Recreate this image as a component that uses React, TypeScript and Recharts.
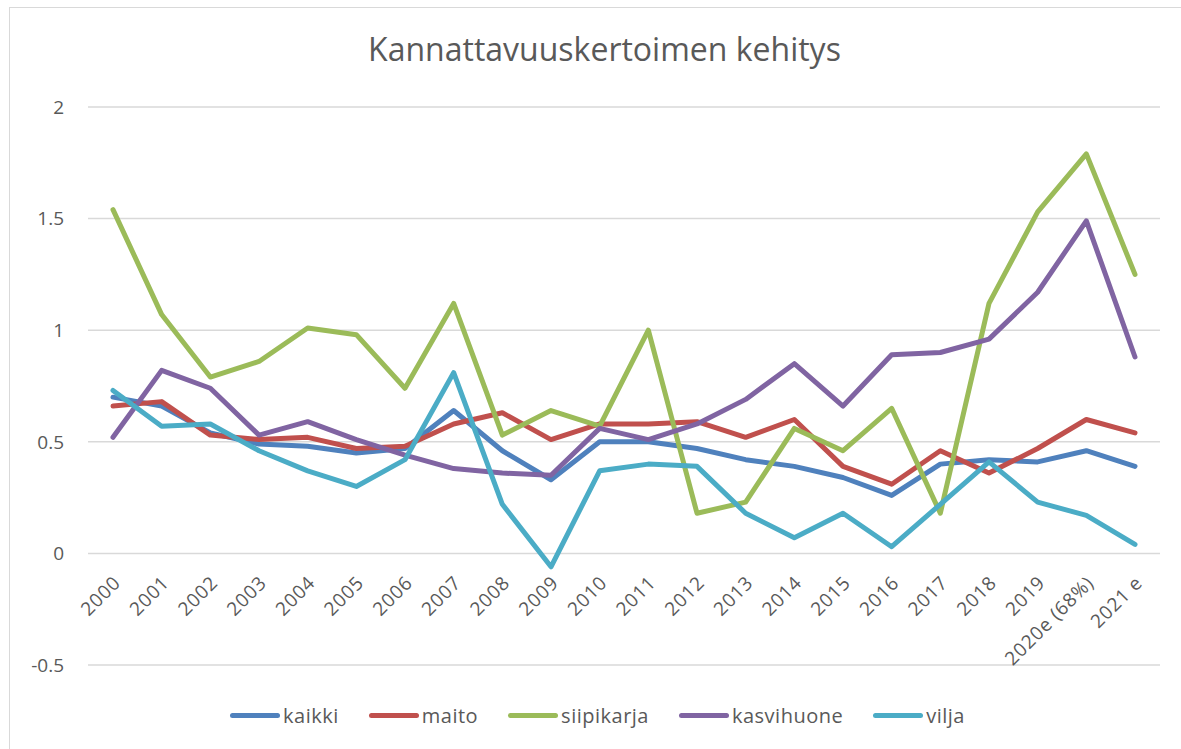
import React from "react";
import { CartesianGrid, Line, LineChart, XAxis, YAxis } from "recharts";

const years = [
  "2000", "2001", "2002", "2003", "2004", "2005", "2006", "2007", "2008", "2009", "2010",
  "2011", "2012", "2013", "2014", "2015", "2016", "2017", "2018", "2019", "2020e (68%)", "2021 e",
];
const kaikki = [0.7, 0.66, 0.54, 0.49, 0.48, 0.45, 0.47, 0.64, 0.46, 0.33, 0.5, 0.5, 0.47, 0.42, 0.39, 0.34, 0.26, 0.4, 0.42, 0.41, 0.46, 0.39];
const maito = [0.66, 0.68, 0.53, 0.51, 0.52, 0.47, 0.48, 0.58, 0.63, 0.51, 0.58, 0.58, 0.59, 0.52, 0.6, 0.39, 0.31, 0.46, 0.36, 0.47, 0.6, 0.54];
const siipikarja = [1.54, 1.07, 0.79, 0.86, 1.01, 0.98, 0.74, 1.12, 0.53, 0.64, 0.57, 1.0, 0.18, 0.23, 0.56, 0.46, 0.65, 0.18, 1.12, 1.53, 1.79, 1.25];
const kasvihuone = [0.52, 0.82, 0.74, 0.53, 0.59, 0.51, 0.44, 0.38, 0.36, 0.35, 0.56, 0.51, 0.58, 0.69, 0.85, 0.66, 0.89, 0.9, 0.96, 1.17, 1.49, 0.88];
const vilja = [0.73, 0.57, 0.58, 0.46, 0.37, 0.3, 0.42, 0.81, 0.22, -0.06, 0.37, 0.4, 0.39, 0.18, 0.07, 0.18, 0.03, 0.22, 0.41, 0.23, 0.17, 0.04];
const yTicks = [-0.5, 0, 0.5, 1, 1.5, 2];

const SERIES = [
  { key: "kaikki", values: kaikki, color: "#4F81BD" },
  { key: "maito", values: maito, color: "#C0504D" },
  { key: "siipikarja", values: siipikarja, color: "#9BBB59" },
  { key: "kasvihuone", values: kasvihuone, color: "#8064A2" },
  { key: "vilja", values: vilja, color: "#4BACC6" },
];

const data = years.map((year, i) => {
  const row: Record<string, string | number> = { year };
  SERIES.forEach((s) => (row[s.key] = s.values[i]));
  return row;
});

const W = 1181;
const H = 749;
const TOP = 107;
const BOTTOM = 84;
const PLOT_H = H - TOP - BOTTOM;
const Y_MIN = -0.5;
const Y_MAX = 2;
// category labels hang off the zero line, not the bottom of the plot
const ZERO_SHIFT = (PLOT_H * (0 - Y_MIN)) / (Y_MAX - Y_MIN);
const FONT = "'Open Sans', 'Noto Sans', sans-serif";
const TEXT = "#595959";

const YearTick = (props: any) => {
  const { x, y, payload } = props;
  return (
    <g transform={`translate(${x + 4},${y - ZERO_SHIFT + 26})`}>
      <text
        textAnchor="end"
        transform="rotate(-45)"
        fill={TEXT}
        fontSize={19}
        letterSpacing={0.8}
        fontFamily={FONT}
        dy="0.35em"
      >
        {payload.value}
      </text>
    </g>
  );
};

export default function App() {
  return (
    <div
      style={{
        position: "absolute",
        left: 0,
        top: 0,
        width: W,
        height: H,
        overflow: "hidden",
        background: "#fff",
      }}
    >
      <div
        style={{
          position: "absolute",
          left: 9,
          top: 7,
          width: W + 20,
          height: H + 20,
          border: "1.5px solid #d9d9d9",
        }}
      />
      <div
        style={{
          position: "absolute",
          top: 27,
          left: 14,
          width: W,
          textAlign: "center",
          fontFamily: FONT,
          fontSize: 32,
          color: TEXT,
        }}
      >
        Kannattavuuskertoimen kehitys
      </div>
      <div style={{ position: "absolute", left: 0, top: 0 }}>
        <LineChart width={W} height={H} data={data} margin={{ top: TOP, right: 21, bottom: 0, left: 0 }}>
          <CartesianGrid vertical={false} stroke="#d9d9d9" strokeWidth={1.5} />
          <XAxis
            dataKey="year"
            interval={0}
            height={BOTTOM}
            padding={{ left: 25, right: 25 }}
            axisLine={false}
            tickLine={false}
            tickSize={0}
            tickMargin={0}
            tick={<YearTick />}
          />
          <YAxis
            domain={[Y_MIN, Y_MAX]}
            ticks={yTicks}
            width={88}
            axisLine={false}
            tickLine={false}
            tickMargin={18}
            tick={{ fill: TEXT, fontSize: 19, fontFamily: FONT }}
          />
          {SERIES.map((s) => (
            <Line
              key={s.key}
              dataKey={s.key}
              stroke={s.color}
              strokeWidth={5}
              dot={false}
              strokeLinejoin="round"
              strokeLinecap="round"
              isAnimationActive={false}
            />
          ))}
        </LineChart>
      </div>
      <div
        style={{
          position: "absolute",
          top: 702,
          left: 7,
          width: W,
          display: "flex",
          justifyContent: "center",
          gap: 30,
          fontFamily: FONT,
          fontSize: 20,
          letterSpacing: 0.5,
          color: TEXT,
        }}
      >
        {SERIES.map((s) => (
          <div key={s.key} style={{ display: "flex", alignItems: "center", gap: 3 }}>
            <span style={{ width: 50, height: 5, borderRadius: 3, background: s.color }} />
            <span>{s.key}</span>
          </div>
        ))}
      </div>
    </div>
  );
}
